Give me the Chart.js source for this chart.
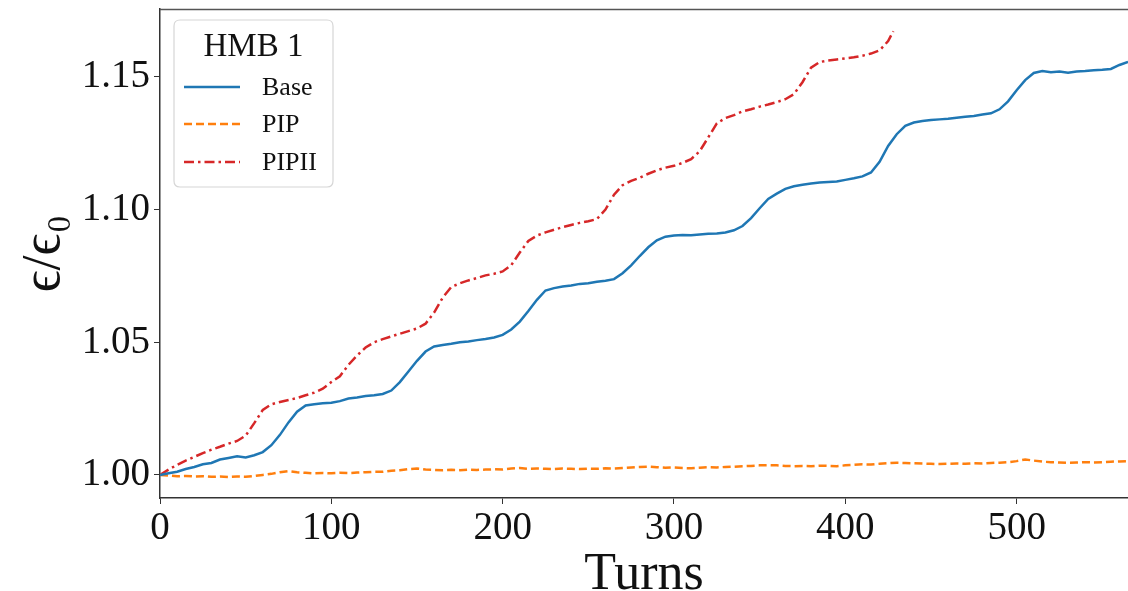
<!DOCTYPE html>
<html>
<head>
<meta charset="utf-8">
<script src="https://cdn.jsdelivr.net/npm/chart.js@4.4.1/dist/chart.umd.min.js"></script>
<style>
  html, body { margin:0; padding:0; background:#fff; overflow:hidden; }
  #wrap { position:relative; width:1128px; height:591px; }
</style>
</head>
<body>
<div id="wrap"><canvas id="c" width="1128" height="591"></canvas></div>
<script>
// ---- data ----
const legendTitle = "HMB 1";
const xTickValues = [0, 100, 200, 300, 400, 500];
const yTickValues = [1.00, 1.05, 1.10, 1.15];

const baseTurns = [0,5,10,15,20,25,30,35,40,45,50,55,60,65,70,75,80,85,90,95,100,105,110,115,120,125,130,135,140,145,150,155,160,165,170,175,180,185,190,195,200,205,210,215,220,225,230,235,240,245,250,255,260,265,270,275,280,285,290,295,300,305,310,315,320,325,330,335,340,345,350,355,360,365,370,375,380,385,390,395,400,405,410,415,420,425,430,435,440,445,450,455,460,465,470,475,480,485,490,495,500,505,510,515,520,525,530,535,540,545,550,555,560,565];
const baseValues = [1.0000,1.0006,1.0012,1.0022,1.0030,1.0040,1.0045,1.0058,1.0064,1.0070,1.0066,1.0074,1.0086,1.0112,1.0151,1.0198,1.0238,1.0262,1.0266,1.0270,1.0272,1.0278,1.0288,1.0292,1.0297,1.0300,1.0305,1.0318,1.0350,1.0390,1.0430,1.0465,1.0484,1.0490,1.0494,1.0500,1.0503,1.0508,1.0512,1.0518,1.0528,1.0548,1.0578,1.0618,1.0660,1.0695,1.0704,1.0710,1.0714,1.0720,1.0722,1.0728,1.0732,1.0738,1.0760,1.0790,1.0825,1.0858,1.0884,1.0898,1.0902,1.0904,1.0903,1.0906,1.0909,1.0910,1.0914,1.0922,1.0938,1.0968,1.1005,1.1040,1.1060,1.1078,1.1088,1.1094,1.1098,1.1102,1.1104,1.1106,1.1112,1.1118,1.1125,1.1140,1.1180,1.1240,1.1284,1.1316,1.1328,1.1334,1.1338,1.1340,1.1342,1.1346,1.1350,1.1353,1.1358,1.1363,1.1378,1.1408,1.1450,1.1488,1.1515,1.1522,1.1518,1.1520,1.1516,1.1520,1.1522,1.1525,1.1527,1.1530,1.1545,1.1557];

const pipTurns = baseTurns;
const pipValues = [1.0000,0.9998,0.9995,0.9996,0.9994,0.9995,0.9993,0.9994,0.9992,0.9994,0.9993,0.9996,1.0000,1.0004,1.0010,1.0014,1.0010,1.0008,1.0006,1.0007,1.0006,1.0008,1.0007,1.0009,1.0010,1.0012,1.0012,1.0016,1.0018,1.0022,1.0024,1.0020,1.0019,1.0018,1.0019,1.0018,1.0020,1.0019,1.0020,1.0021,1.0020,1.0024,1.0026,1.0023,1.0024,1.0023,1.0022,1.0024,1.0023,1.0022,1.0024,1.0023,1.0025,1.0024,1.0026,1.0028,1.0030,1.0031,1.0029,1.0027,1.0028,1.0026,1.0025,1.0027,1.0029,1.0028,1.0030,1.0031,1.0033,1.0034,1.0036,1.0037,1.0036,1.0034,1.0033,1.0034,1.0033,1.0035,1.0034,1.0033,1.0036,1.0038,1.0040,1.0039,1.0042,1.0044,1.0046,1.0045,1.0044,1.0043,1.0042,1.0041,1.0042,1.0043,1.0042,1.0044,1.0043,1.0045,1.0046,1.0048,1.0052,1.0058,1.0054,1.0050,1.0048,1.0047,1.0046,1.0047,1.0048,1.0047,1.0048,1.0050,1.0051,1.0052];

const pip2Turns = [0,5,10,15,20,25,30,35,40,45,50,55,60,65,70,75,80,85,90,95,100,105,110,115,120,125,130,135,140,145,150,155,160,165,170,175,180,185,190,195,200,205,210,215,220,225,230,235,240,245,250,255,260,265,270,275,280,285,290,295,300,305,310,315,320,325,330,335,340,345,350,355,360,365,370,375,380,385,390,395,400,405,410,415,420,425,428];
const pip2Values = [1.0000,1.0020,1.0038,1.0054,1.0068,1.0082,1.0095,1.0106,1.0118,1.0128,1.0148,1.0195,1.0245,1.0266,1.0275,1.0282,1.0290,1.0300,1.0310,1.0325,1.0350,1.0372,1.0415,1.0450,1.0480,1.0500,1.0512,1.0522,1.0532,1.0542,1.0552,1.0570,1.0612,1.0668,1.0708,1.0722,1.0733,1.0742,1.0752,1.0758,1.0767,1.0790,1.0838,1.0882,1.0902,1.0914,1.0924,1.0934,1.0942,1.0950,1.0956,1.0964,1.1000,1.1056,1.1092,1.1108,1.1120,1.1135,1.1148,1.1158,1.1165,1.1176,1.1190,1.1220,1.1272,1.1325,1.1345,1.1356,1.1370,1.1378,1.1388,1.1396,1.1405,1.1416,1.1435,1.1480,1.1535,1.1556,1.1562,1.1566,1.1570,1.1574,1.1580,1.1588,1.1600,1.1635,1.1672];

const seriesNames = ["Base", "PIP", "PIPII"];

function pts(xs, ys) { return xs.map((x, i) => ({ x: x, y: ys[i] })); }

const SERIF = "'Liberation Serif', 'DejaVu Serif', serif";

const frameAndLegend = {
  id: 'frameAndLegend',
  afterDatasetsDraw(chart) {
    const ctx = chart.ctx;
    const a = chart.chartArea;
    ctx.save();
    // top spine
    ctx.strokeStyle = '#555';
    ctx.lineWidth = 1.5;
    ctx.beginPath();
    ctx.moveTo(a.left, a.top + 0.5);
    ctx.lineTo(a.right, a.top + 0.5);
    ctx.stroke();

    // legend box
    const bx = 174, by = 20, bw = 159, bh = 167, r = 6;
    ctx.beginPath();
    ctx.moveTo(bx + r, by);
    ctx.lineTo(bx + bw - r, by);
    ctx.quadraticCurveTo(bx + bw, by, bx + bw, by + r);
    ctx.lineTo(bx + bw, by + bh - r);
    ctx.quadraticCurveTo(bx + bw, by + bh, bx + bw - r, by + bh);
    ctx.lineTo(bx + r, by + bh);
    ctx.quadraticCurveTo(bx, by + bh, bx, by + bh - r);
    ctx.lineTo(bx, by + r);
    ctx.quadraticCurveTo(bx, by, bx + r, by);
    ctx.closePath();
    ctx.fillStyle = 'rgba(255,255,255,0.85)';
    ctx.fill();
    ctx.strokeStyle = '#d6d6d6';
    ctx.lineWidth = 1.2;
    ctx.stroke();

    ctx.fillStyle = '#111';
    ctx.font = "33px " + SERIF;
    ctx.textAlign = 'center';
    ctx.textBaseline = 'middle';
    ctx.fillText(chart.options.plugins.frameAndLegend.title, bx + bw / 2, 47);

    const rows = [87, 124, 162];
    chart.data.datasets.forEach((ds, i) => {
      const y = rows[i];
      ctx.strokeStyle = ds.borderColor;
      ctx.lineWidth = ds.borderWidth;
      ctx.setLineDash(ds.borderDash || []);
      ctx.beginPath();
      ctx.moveTo(184, y);
      ctx.lineTo(240, y);
      ctx.stroke();
      ctx.setLineDash([]);
      ctx.fillStyle = '#111';
      ctx.font = "26px " + SERIF;
      ctx.textAlign = 'left';
      ctx.fillText(ds.label, 262, y + 1);
    });
    ctx.restore();
  }
};

new Chart(document.getElementById('c'), {
  type: 'line',
  data: {
    datasets: [
      { label: seriesNames[0], data: pts(baseTurns, baseValues), borderColor: '#1f77b4', borderWidth: 2.5, borderDash: [], pointRadius: 0, fill: false, tension: 0 },
      { label: seriesNames[1], data: pts(pipTurns, pipValues), borderColor: '#ff7f0e', borderWidth: 2.5, borderDash: [8, 4], pointRadius: 0, fill: false, tension: 0 },
      { label: seriesNames[2], data: pts(pip2Turns, pip2Values), borderColor: '#d62728', borderWidth: 2.5, borderDash: [10, 4, 2.5, 4], pointRadius: 0, fill: false, tension: 0 }
    ]
  },
  options: {
    responsive: false,
    animation: false,
    events: [],
    layout: { padding: { top: 9, right: 0, bottom: 0, left: 0 } },
    plugins: {
      legend: { display: false },
      tooltip: { enabled: false },
      frameAndLegend: { title: legendTitle }
    },
    scales: {
      x: {
        type: 'linear',
        min: 0,
        max: 565,
        afterBuildTicks(scale) { scale.ticks = xTickValues.map(v => ({ value: v })); },
        afterFit(scale) { scale.height = 93; scale.paddingLeft = 0; scale.paddingRight = 0; },
        grid: { display: true, drawOnChartArea: false, drawTicks: true, tickLength: 6, tickColor: '#333', tickWidth: 1 },
        border: { display: true, color: '#333', width: 1.5 },
        ticks: { color: '#111', font: { family: SERIF, size: 39 }, padding: 1, maxRotation: 0, callback: v => String(v) },
        title: { display: true, text: 'Turns', color: '#111', font: { family: SERIF, size: 52, lineHeight: 0.62 }, padding: { top: 0, bottom: 0 } }
      },
      y: {
        type: 'linear',
        min: 0.9913,
        max: 1.1756,
        afterBuildTicks(scale) { scale.ticks = yTickValues.map(v => ({ value: v })); },
        afterFit(scale) { scale.width = 160; scale.paddingTop = 0; scale.paddingBottom = 0; },
        grid: { display: true, drawOnChartArea: false, drawTicks: true, tickLength: 6, tickColor: '#333', tickWidth: 1 },
        border: { display: true, color: '#333', width: 1.5 },
        ticks: { color: '#111', font: { family: SERIF, size: 39 }, padding: 4, callback: v => v.toFixed(2) },
        title: { display: true, text: 'ϵ/ϵ₀', color: '#111', font: { family: SERIF, size: 54, lineHeight: 1.0 }, padding: { top: 18, bottom: 0 } }
      }
    }
  },
  plugins: [frameAndLegend]
});
</script>
</body>
</html>
